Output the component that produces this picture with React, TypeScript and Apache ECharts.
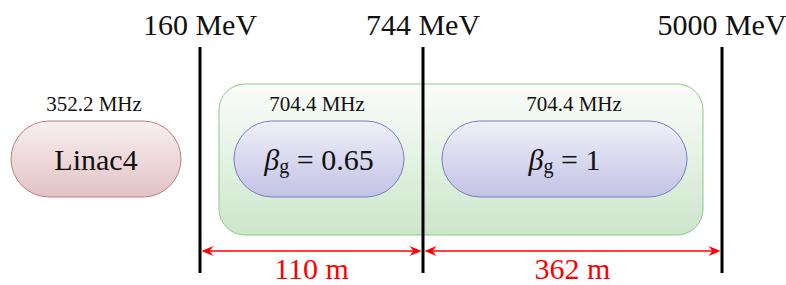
import React, { useEffect, useRef } from "react";
import * as echarts from "echarts";

// ---- data ----
const energyLabels = ["160 MeV", "744 MeV", "5000 MeV"];
const lengthLabels = ["110 m", "362 m"];
const sectionNames = ["Linac4", "0.65", "1"]; // Linac4, then β_g values
const frequencyLabels = ["352.2 MHz", "704.4 MHz", "704.4 MHz"];

// ---- layout (pixels) ----
const boundaryX = [200, 423, 722];
const lineTop = 47;
const lineBottom = 273;
const arrowY = 251;
const pills = [
  { x: 11, y: 121, w: 170, h: 76, kind: "red" },
  { x: 234, y: 121, w: 170, h: 76, kind: "blue" },
  { x: 442, y: 121, w: 245, h: 76, kind: "blue" },
];
const freqX = [94, 317, 574];
const greenBox = { x: 219, y: 84, w: 484, h: 151, r: 26 };
const freqY = 104;
const FONT = "Liberation Serif";

const palettes: Record<string, { top: string; bottom: string; stroke: string }> = {
  red: { top: "#f8f0f0", bottom: "#e2c2c4", stroke: "#c07c7f" },
  blue: { top: "#f0f0f9", bottom: "#c2c2e5", stroke: "#7b7bc8" },
  green: { top: "#fbfdfb", bottom: "#cce6ca", stroke: "#8bcb87" },
};

const grad = (p: { top: string; bottom: string }) => ({
  type: "linear",
  x: 0,
  y: 0,
  x2: 0,
  y2: 1,
  colorStops: [
    { offset: 0, color: p.top },
    { offset: 1, color: p.bottom },
  ],
});

function arrowHead(tipX: number, y: number, dir: number) {
  const L = 12;
  const H = 5;
  return {
    type: "polygon",
    shape: {
      points: [
        [tipX, y],
        [tipX - dir * L, y - H],
        [tipX - dir * 8, y],
        [tipX - dir * L, y + H],
      ],
    },
    style: { fill: "#ff0000" },
  };
}

const txt = (x: number, y: number, text: string, size: number, fill = "#111") => ({
  type: "text",
  x,
  y,
  style: {
    text,
    fontFamily: FONT,
    fontSize: size,
    fill,
    align: "center",
    verticalAlign: "middle",
  },
});

export default function App() {
  const ref = useRef<HTMLDivElement>(null);
  useEffect(() => {
    if (!ref.current) return;
    const chart = echarts.init(ref.current, null, { renderer: "svg" });
    const elements: any[] = [];

    elements.push({
      type: "rect",
      shape: { x: greenBox.x, y: greenBox.y, width: greenBox.w, height: greenBox.h, r: greenBox.r },
      style: { fill: grad(palettes.green), stroke: palettes.green.stroke, lineWidth: 1 },
    });

    pills.forEach((p, i) => {
      const pal = palettes[p.kind];
      elements.push({
        type: "rect",
        shape: { x: p.x, y: p.y, width: p.w, height: p.h, r: p.h / 2 },
        style: { fill: grad(pal), stroke: pal.stroke, lineWidth: 1 },
      });
      const cx = p.x + p.w / 2;
      const cy = p.y + p.h / 2;
      if (i === 0) {
        elements.push(txt(cx, cy, sectionNames[i], 30));
      } else {
        elements.push({
          type: "text",
          x: cx,
          y: cy,
          style: {
            text: `{b|β}{s|g}{n| = ${sectionNames[i]}}`,
            align: "center",
            verticalAlign: "middle",
            rich: {
              b: { fontFamily: FONT, fontSize: 30, fontStyle: "italic", lineHeight: 34, fill: "#111", verticalAlign: "middle" },
              s: { fontFamily: FONT, fontSize: 20, lineHeight: 18, fill: "#111", verticalAlign: "bottom" },
              n: { fontFamily: FONT, fontSize: 30, lineHeight: 34, fill: "#111", verticalAlign: "middle" },
            },
          },
        });
      }
      elements.push(txt(freqX[i], freqY, frequencyLabels[i], 21));
    });

    boundaryX.forEach((x, i) => {
      elements.push({
        type: "line",
        shape: { x1: x, y1: lineTop, x2: x, y2: lineBottom },
        style: { stroke: "#000", lineWidth: 3 },
      });
      elements.push(txt(x, 24, energyLabels[i], 30));
    });

    lengthLabels.forEach((lab, i) => {
      const a = boundaryX[i] + 1.5;
      const b = boundaryX[i + 1] - 1.5;
      elements.push({
        type: "line",
        shape: { x1: a + 6, y1: arrowY, x2: b - 6, y2: arrowY },
        style: { stroke: "#ff0000", lineWidth: 1.6 },
      });
      elements.push(arrowHead(a, arrowY, -1));
      elements.push(arrowHead(b, arrowY, 1));
      elements.push(txt((boundaryX[i] + boundaryX[i + 1]) / 2, 268, lab, 30, "#ff0000"));
    });

    chart.setOption({
      animation: false,
      backgroundColor: "#ffffff",
      graphic: { elements },
    });
    return () => chart.dispose();
  }, []);
  return (
    <div
      ref={ref}
      style={{ position: "absolute", left: 0, top: 0, width: 786, height: 285 }}
    />
  );
}
